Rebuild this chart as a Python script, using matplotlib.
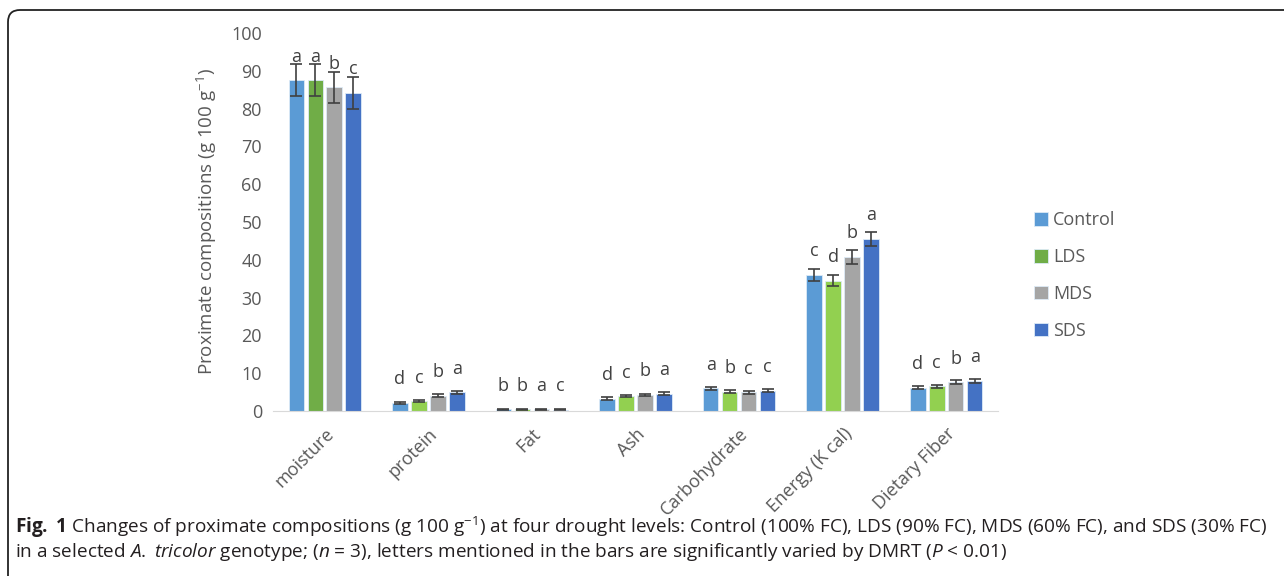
import numpy as np
import matplotlib
matplotlib.use("Agg")
import matplotlib.pyplot as plt
from matplotlib.patches import FancyBboxPatch
from matplotlib.transforms import IdentityTransform

plt.rcParams["font.family"] = ["Open Sans", "DejaVu Sans"]
plt.rcParams["mathtext.fontset"] = "custom"
plt.rcParams["mathtext.rm"] = "Open Sans"
plt.rcParams["mathtext.it"] = "Open Sans:italic"
plt.rcParams["mathtext.bf"] = "Open Sans:bold"

categories = ["moisture", "protein", "Fat", "Ash", "Carbohydrate", "Energy (K cal)", "Dietary Fiber"]
series = ["Control", "LDS", "MDS", "SDS"]

control = [87.5, 2.2, 0.4, 3.3, 6.0, 36.0, 6.2]
lds = [87.5, 2.6, 0.4, 3.9, 5.1, 34.5, 6.5]
mds = [85.6, 4.1, 0.4, 4.3, 5.0, 40.8, 7.6]
sds = [84.2, 5.0, 0.3, 4.6, 5.3, 45.5, 8.0]

control_err = [4.2, 0.3, 0.1, 0.3, 0.4, 1.6, 0.4]
lds_err = [4.2, 0.3, 0.1, 0.3, 0.4, 1.5, 0.4]
mds_err = [4.2, 0.3, 0.1, 0.3, 0.4, 1.8, 0.5]
sds_err = [4.2, 0.4, 0.1, 0.3, 0.4, 1.8, 0.5]

control_let = ["a", "d", "b", "d", "a", "c", "d"]
lds_let = ["a", "c", "b", "c", "b", "d", "c"]
mds_let = ["b", "b", "a", "b", "c", "b", "b"]
sds_let = ["c", "a", "c", "a", "c", "a", "a"]

values = [control, lds, mds, sds]
errors = [control_err, lds_err, mds_err, sds_err]
letters = [control_let, lds_let, mds_let, sds_let]
colors = ["#5B9BD5", "#92D050", "#A5A5A5", "#4472C4"]

fig = plt.figure(figsize=(12.84, 5.76), dpi=100)
ax = fig.add_axes([273 / 1284, 1 - 411 / 576, 725 / 1284, 378 / 576])

x = np.arange(len(categories))
step = 0.183
txt_col = "#595959"
for i, s in enumerate(series):
    pos = x + (i - 1.5) * step
    cols = [colors[i]] * len(categories)
    if s == "LDS":
        cols[0] = "#70AD47"
    ax.bar(pos, values[i], 0.15, color=cols, edgecolor="#DDEBF7", linewidth=0.6,
           label=s, zorder=2)
    ax.errorbar(pos, values[i], yerr=errors[i], fmt="none", ecolor="#404040",
                elinewidth=1.2, capsize=4.5, capthick=1.2, zorder=3)
    for p, v, l in zip(pos, values[i], letters[i]):
        ax.annotate(l, (p, v), xytext=(0, 10.5), textcoords="offset points",
                    ha="center", va="bottom", fontsize=13, color="#404040")

ax.set_xlim(-0.5, len(categories) - 0.5)
ax.set_ylim(0, 100)
ax.set_yticks(range(0, 101, 10))
ax.set_xticks(x)
ax.set_xticklabels(categories, rotation=45, ha="right", rotation_mode="anchor")
ax.tick_params(axis="both", length=0, labelsize=13, labelcolor=txt_col, pad=8)
ax.tick_params(axis="x", pad=10)
for sp in ["top", "right", "left"]:
    ax.spines[sp].set_visible(False)
ax.spines["bottom"].set_color("#D9D9D9")
ax.set_ylabel("Proximate compositions (g 100 g$^{\\mathregular{-1}}$)", fontsize=13.5,
              color=txt_col, labelpad=9)

handles, labels = ax.get_legend_handles_labels()
leg = fig.legend(handles, labels, loc="upper left", bbox_to_anchor=(1018 / 1284, 1 - 195 / 576),
                 frameon=False, fontsize=13, labelspacing=1.05, handlelength=0.75,
                 handleheight=0.75, handletextpad=0.3)
for t in leg.get_texts():
    t.set_color(txt_col)

fig.text(15 / 1284, 1 - 527 / 576,
         r"$\mathbf{Fig.}$ $\mathbf{1}$ Changes of proximate compositions (g 100 g$^{-1}$) at four drought levels: "
         "Control (100% FC), LDS (90% FC), MDS (60% FC), and SDS (30% FC)",
         fontsize=13.7, va="center", color="#231F20")
fig.text(15 / 1284, 1 - 552 / 576,
         r"in a selected $\mathit{A.}$ $\mathit{tricolor}$ genotype; ($\mathit{n}$ = 3), letters mentioned in the bars "
         r"are significantly varied by DMRT ($\mathit{P}$ < 0.01)",
         fontsize=13.7, va="center", color="#231F20")

# frame around the figure, running off the right and bottom edges
box = FancyBboxPatch((8, -30), 1310, 596, boxstyle="round,pad=0,rounding_size=12",
                     transform=IdentityTransform(), fill=False, edgecolor="#222222",
                     linewidth=1.3)
fig.patches.append(box)

fig.savefig("out.png", dpi=100)
